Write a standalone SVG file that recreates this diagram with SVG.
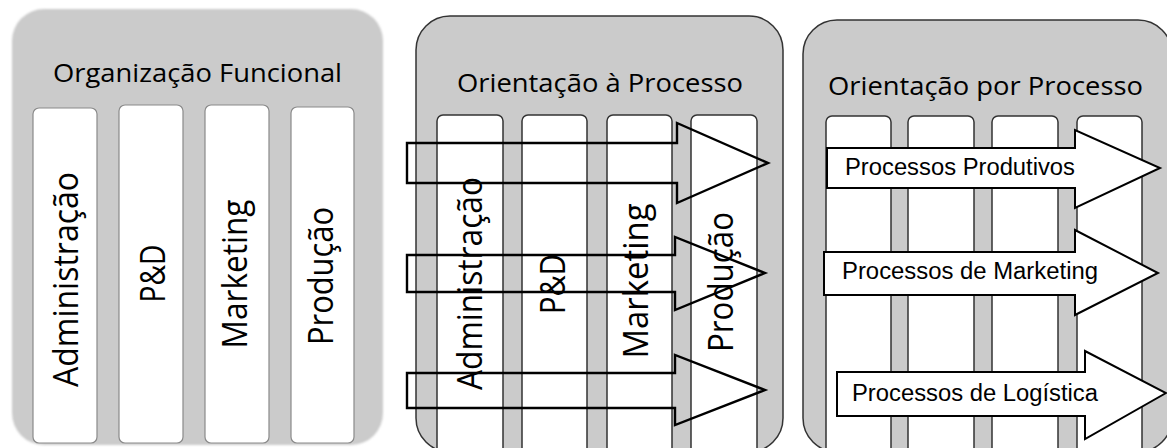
<svg xmlns="http://www.w3.org/2000/svg" width="1167" height="448" viewBox="0 0 1167 448">
<defs>
<style>
.bg{fill:#ffffff}
.panel0{fill:#cbcbcb}
.panel{fill:#cbcbcb;stroke:#333;stroke-width:1.5}
.col0{fill:#fff;stroke:#8a8a8a;stroke-width:1.2}
.col{fill:#fff;stroke:#333;stroke-width:1.5}
.title{font-family:"Open Sans","Noto Sans",sans-serif;font-size:26px;fill:#000;text-anchor:middle}
.vlab{font-family:"Open Sans","Noto Sans",sans-serif;font-size:35px;fill:#000;text-anchor:middle}
.arrowO{fill:none;stroke:#000;stroke-width:2.4}
.arrowF{fill:#fff;stroke:#000;stroke-width:2}
.alab{font-family:"Liberation Sans",Arial,sans-serif;font-size:23.5px;fill:#000}
</style>
<filter id="soft" x="-5%" y="-5%" width="110%" height="110%"><feGaussianBlur stdDeviation="1.2"/></filter>
</defs>
<rect class="bg" x="0" y="0" width="1167" height="448"/>

<g id="panel-funcional">
<rect class="panel0" x="12" y="9" width="371" height="436" rx="32" filter="url(#soft)"/>
<text class="title" x="197.5" y="82" textLength="289" lengthAdjust="spacingAndGlyphs">Organização Funcional</text>
</g>
<g id="f-administracao">
<rect class="col0" x="33" y="108" width="64" height="335" rx="6"/>
<text class="vlab" transform="translate(78,279.5) rotate(-90)" textLength="215" lengthAdjust="spacingAndGlyphs">Administração</text>
</g>
<g id="f-pd">
<rect class="col0" x="119" y="105" width="64" height="338" rx="6"/>
<text class="vlab" transform="translate(165,273.5) rotate(-90)" textLength="58" lengthAdjust="spacingAndGlyphs">P&amp;D</text>
</g>
<g id="f-marketing">
<rect class="col0" x="205" y="105" width="64" height="338" rx="6"/>
<text class="vlab" transform="translate(247,274) rotate(-90)" textLength="149" lengthAdjust="spacingAndGlyphs">Marketing</text>
</g>
<g id="f-producao">
<rect class="col0" x="291" y="107" width="63" height="336" rx="6"/>
<text class="vlab" transform="translate(333,276) rotate(-90)" textLength="138" lengthAdjust="spacingAndGlyphs">Produção</text>
</g>

<g id="panel-orientacao-a">
<rect class="panel" x="416" y="16" width="367" height="436" rx="34"/>
<text class="title" x="600" y="92" textLength="286" lengthAdjust="spacingAndGlyphs">Orientação à Processo</text>
</g>
<g id="a-administracao">
<rect class="col" x="437" y="115" width="66" height="345" rx="6"/>
<text class="vlab" transform="translate(482,283.5) rotate(-90)" textLength="213" lengthAdjust="spacingAndGlyphs">Administração</text>
</g>
<g id="a-pd">
<rect class="col" x="522" y="115" width="65" height="345" rx="6"/>
<text class="vlab" transform="translate(565,284) rotate(-90)" textLength="60" lengthAdjust="spacingAndGlyphs">P&amp;D</text>
</g>
<g id="a-marketing">
<rect class="col" x="607" y="115" width="65" height="345" rx="6"/>
<text class="vlab" transform="translate(648,281) rotate(-90)" textLength="155" lengthAdjust="spacingAndGlyphs">Marketing</text>
</g>
<g id="a-producao">
<rect class="col" x="691" y="115" width="66" height="345" rx="6"/>
<text class="vlab" transform="translate(733,282) rotate(-90)" textLength="140" lengthAdjust="spacingAndGlyphs">Produção</text>
</g>

<g id="panel-orientacao-por">
<rect class="panel" x="803" y="20" width="369" height="432" rx="34"/>
<text class="title" x="985.5" y="95" textLength="315" lengthAdjust="spacingAndGlyphs">Orientação por Processo</text>
</g>
<g id="p-col1"><rect class="col" x="826" y="116" width="65" height="345" rx="6"/></g>
<g id="p-col2"><rect class="col" x="908" y="116" width="66" height="345" rx="6"/></g>
<g id="p-col3"><rect class="col" x="992" y="116" width="66" height="345" rx="6"/></g>
<g id="p-col4"><rect class="col" x="1077" y="116" width="65" height="345" rx="6"/></g>

<g id="connectors">
<polygon class="arrowO" points="407,143 677,143 677,123 768,163 677,203 677,183 407,183"/>
<polygon class="arrowO" points="407,255 675,255 675,237 765,273 675,310 675,292 407,292"/>
<polygon class="arrowO" points="407,373 675,373 675,355 765,390 675,425 675,408 407,408"/>
</g>

<g id="proc-produtivos">
<polygon class="arrowF" points="827,148 1075,148 1075,130 1160,168 1075,208 1075,188 827,188"/>
<text class="alab" x="845" y="175" textLength="230" lengthAdjust="spacingAndGlyphs">Processos Produtivos</text>
</g>
<g id="proc-marketing">
<polygon class="arrowF" points="824,252 1075,252 1075,230 1158,273 1075,315 1075,295 824,295"/>
<text class="alab" x="842" y="279" textLength="256" lengthAdjust="spacingAndGlyphs">Processos de Marketing</text>
</g>
<g id="proc-logistica">
<polygon class="arrowF" points="837,372 1085,372 1085,351 1166,393 1085,439 1085,416 837,416"/>
<text class="alab" x="852" y="401" textLength="246" lengthAdjust="spacingAndGlyphs">Processos de Logística</text>
</g>
</svg>
